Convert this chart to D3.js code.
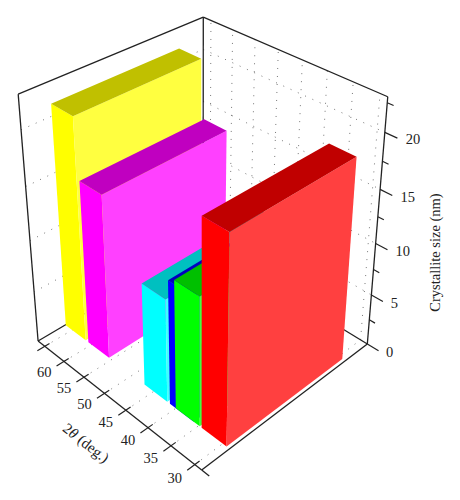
<!DOCTYPE html>
<html>
<head>
<meta charset="utf-8">
<script src="https://cdn.jsdelivr.net/npm/d3@7"></script>
<style>
    html, body { margin: 0; padding: 0; background: #fff; }
    text { font-family: "Liberation Serif", serif; font-size: 14.5px; fill: #222; }
</style>
</head>
<body>
<script>
// values, back bar first
const barNames = ['yellow', 'magenta', 'cyan', 'blue', 'green', 'red'];
const peakAngles = [64.1, 58.2, 44.5, 38.7, 37.4, 31.8];
const crystalSizes = [21.1, 15.6, 9.8, 11.7, 12.1, 19.0];
const sideColors = ['#ffff00', '#ff00ff', '#00ffff', '#0000ff', '#00ff00', '#ff0000'];
const frontColors = ['#ffff40', '#ff40ff', '#40ffff', '#4040ff', '#40ff40', '#ff4040'];
const topColors = ['#c0c000', '#c000c0', '#00c0c0', '#0000c0', '#00c000', '#c00000'];

const angleTicks = [30, 35, 40, 45, 50, 55, 60, 65];
const angleLabels = [30, 35, 40, 45, 50, 55, 60];
const sizeTicks = [0, 2.5, 5, 7.5, 10, 12.5, 15, 17.5, 20, 22.5];
const sizeLabels = [0, 5, 10, 15, 20];

const peakWidth = 5.2;
const depthRange = [0.15, 0.85];

const svg = d3.select('body').append('svg')
    .attr('width', 460)
    .attr('height', 500);

// box coordinates 0..1 for each axis
const xScale = d3.scaleLinear().domain([28.6, 66.8]).range([0, 1]);
const zScale = d3.scaleLinear().domain([0, 23]).range([0, 1]);

// perspective camera fitted to the corners of the box
function project(u, v, w) {
    const d = 1 + 0.1476 * u + 0.1442 * v - 0.125 * w;
    return [
        (201.7 - 158 * u + 218.6 * v - 25.1 * w) / d,
        (470 - 78.7 * u - 76.4 * v - 295 * w) / d
    ];
}

const line = d3.line();
const segment = (a, b) => line([project(...a), project(...b)]);
const polygon = (points) => line(points.map(p => project(...p))) + 'Z';

// dotted grid: floor, left wall, right wall
const grid = svg.append('g')
    .attr('fill', 'none')
    .attr('stroke', '#777')
    .attr('stroke-width', 1)
    .attr('stroke-dasharray', '1 7');

angleTicks.forEach(t => {
    grid.append('path').attr('d', segment([xScale(t), 0, 0], [xScale(t), 1, 0]));
    grid.append('path').attr('d', segment([xScale(t), 1, 0], [xScale(t), 1, 1]));
});
sizeLabels.slice(1).forEach(s => {
    grid.append('path').attr('d', segment([1, 0, zScale(s)], [1, 1, zScale(s)]));
    grid.append('path').attr('d', segment([1, 1, zScale(s)], [0, 1, zScale(s)]));
});

// frame of the box
const frameEdges = [
    [[1, 0, 0], [1, 0, 1]], [[1, 0, 1], [1, 1, 1]], [[1, 1, 1], [0, 1, 1]],
    [[0, 1, 1], [0, 1, 0]], [[1, 1, 0], [1, 1, 1]], [[1, 0, 0], [0, 0, 0]],
    [[0, 0, 0], [0, 1, 0]], [[1, 0, 0], [1, 1, 0]], [[0, 1, 0], [1, 1, 0]],
    [[0, 0, 0], [-0.04, 0, 0]]
];
const frame = svg.append('g')
    .attr('fill', 'none')
    .attr('stroke', '#222')
    .attr('stroke-width', 1.3);

frame.selectAll('path')
    .data(frameEdges)
    .enter()
    .append('path')
    .attr('d', (edge) => segment(edge[0], edge[1]));

// bars, painted from the back to the front
const bars = svg.selectAll('g.bar')
    .data(barNames)
    .enter()
    .append('g')
    .attr('class', 'bar');

bars.each(function (_, i) {
    const bar = d3.select(this);
    const u0 = xScale(peakAngles[i] - peakWidth / 2);
    const u1 = xScale(peakAngles[i] + peakWidth / 2);
    const [v0, v1] = depthRange;
    const w = zScale(crystalSizes[i]);

    bar.append('path')
        .attr('fill', sideColors[i])
        .attr('d', polygon([[u1, v0, 0], [u0, v0, 0], [u0, v0, w], [u1, v0, w]]));
    bar.append('path')
        .attr('fill', frontColors[i])
        .attr('d', polygon([[u0, v0, 0], [u0, v1, 0], [u0, v1, w], [u0, v0, w]]));
    bar.append('path')
        .attr('fill', topColors[i])
        .attr('d', polygon([[u0, v0, w], [u0, v1, w], [u1, v1, w], [u1, v0, w]]));
});

// ticks sit on top of the bars' floor
const ticks = svg.append('g')
    .attr('fill', 'none')
    .attr('stroke', '#222')
    .attr('stroke-width', 1.2);

angleTicks.forEach(t => {
    ticks.append('path').attr('d', segment([xScale(t), -0.04, 0], [xScale(t), 0.025, 0]));
});
sizeTicks.forEach(s => {
    const len = sizeLabels.includes(s) ? 0.06 : 0.03;
    ticks.append('path').attr('d', segment([0, 1, zScale(s)], [-len, 1, zScale(s)]));
});

svg.selectAll('text.angle')
    .data(angleLabels)
    .enter()
    .append('text')
    .attr('class', 'angle')
    .attr('text-anchor', 'middle')
    .attr('dy', 3)
    .attr('x', (t) => project(xScale(t), -0.105, 0)[0])
    .attr('y', (t) => project(xScale(t), -0.105, 0)[1])
    .text((t) => t);

svg.selectAll('text.size')
    .data(sizeLabels)
    .enter()
    .append('text')
    .attr('class', 'size')
    .attr('dy', 2)
    .attr('x', (s) => project(-0.1, 1, zScale(s))[0])
    .attr('y', (s) => project(-0.1, 1, zScale(s))[1])
    .text((s) => s);

svg.append('text')
    .attr('text-anchor', 'middle')
    .attr('transform', 'translate(440,252.5) rotate(-90)')
    .text('Crystallite size (nm)');

const angleTitle = svg.append('text')
    .attr('text-anchor', 'middle')
    .attr('transform', 'translate(83,447) rotate(38)')
    .style('font-size', '15px');
angleTitle.append('tspan').text('2');
angleTitle.append('tspan').attr('font-style', 'italic').text('θ');
angleTitle.append('tspan').text(' (deg.)');
</script>
</body>
</html>
